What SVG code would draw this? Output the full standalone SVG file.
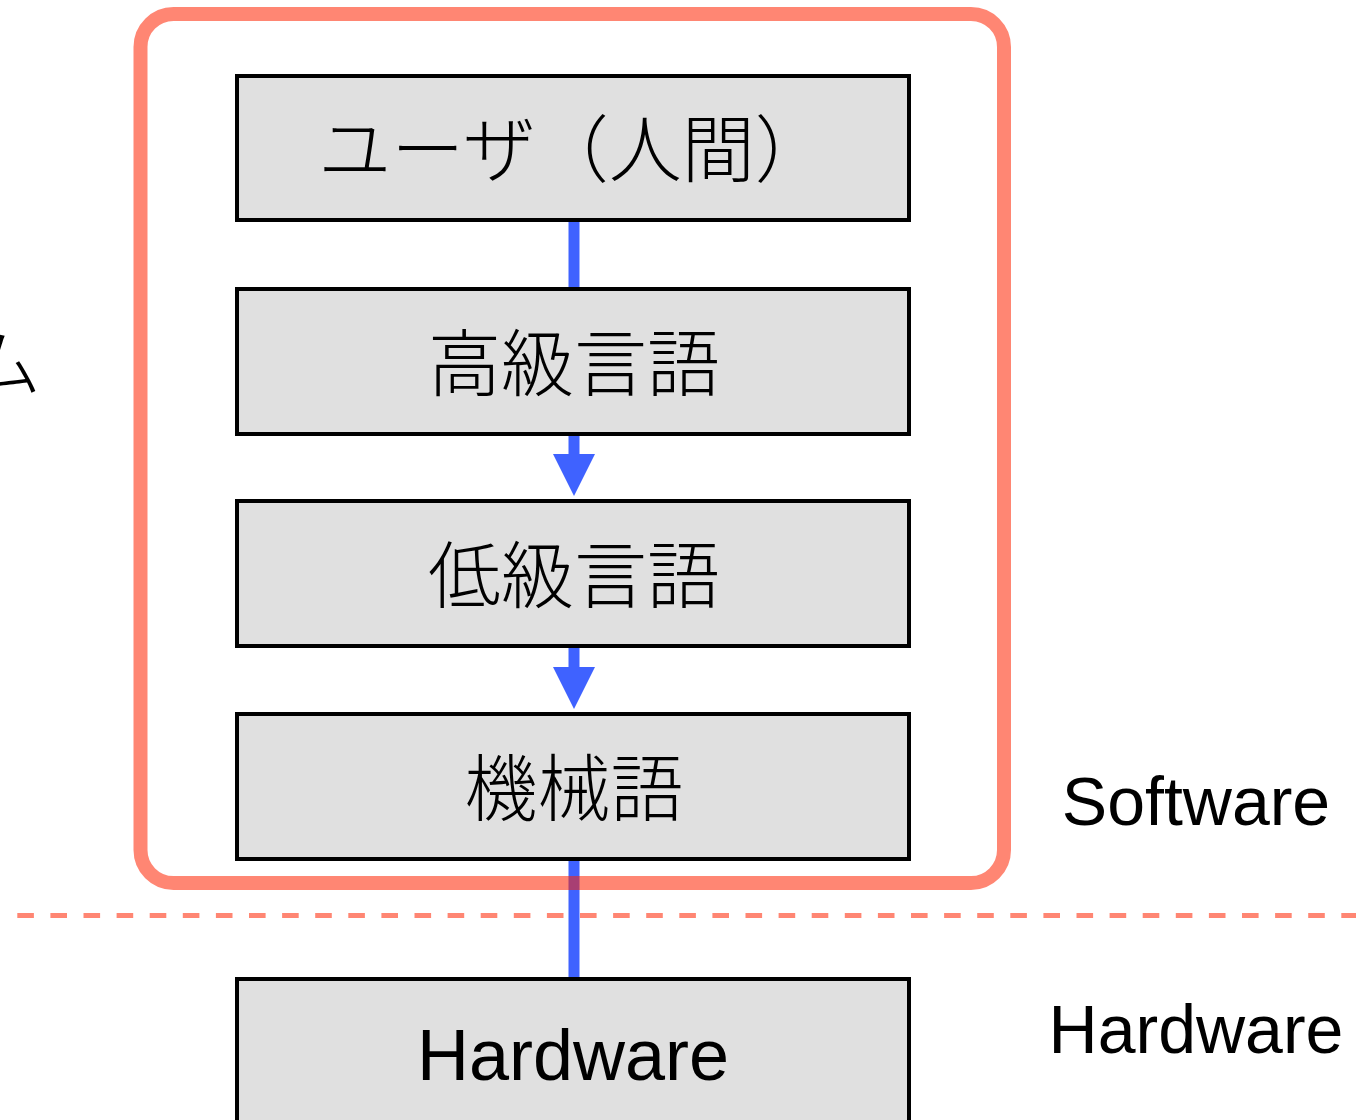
<svg xmlns="http://www.w3.org/2000/svg" width="1356" height="1120" viewBox="0 0 1356 1120">
  <style>
    .box { fill: #E0E0E0; stroke: #000000; stroke-width: 4; }
    .jp { font-family: "Noto Sans CJK JP", "Noto Sans", sans-serif; font-size: 73px; font-weight: 300; fill: #000000; }
    .en { font-family: "Liberation Sans", Arial, sans-serif; fill: #000000; }
    .link { stroke: #3F62FF; stroke-width: 11; fill: none; }
    .salmon { stroke: #FF2200; stroke-opacity: 0.55; fill: none; }
  </style>
  <defs>
    <marker id="arrow" markerUnits="userSpaceOnUse" markerWidth="42" markerHeight="42" viewBox="0 0 42 42" refX="0" refY="21" orient="auto">
      <path d="M0,0 L42,21 L0,42 Z" fill="#3F62FF"/>
    </marker>
  </defs>

  <text class="jp" x="-32" y="390">ム</text>

  <g id="node-user">
    <rect class="box" x="237" y="76" width="672" height="144"/>
    <text class="jp" x="573" y="176" text-anchor="middle">ユーザ（人間）</text>
  </g>
  <g id="node-high">
    <rect class="box" x="237" y="289" width="672" height="145"/>
    <text class="jp" x="574" y="390" text-anchor="middle">高級言語</text>
  </g>
  <g id="node-low">
    <rect class="box" x="237" y="501" width="672" height="145"/>
    <text class="jp" x="574" y="602" text-anchor="middle">低級言語</text>
  </g>
  <g id="node-machine">
    <rect class="box" x="237" y="714" width="672" height="145"/>
    <text class="jp" x="574" y="815" text-anchor="middle">機械語</text>
  </g>
  <g id="node-hardware">
    <rect class="box" x="237" y="979" width="672" height="200"/>
    <text class="en" x="573" y="1080" font-size="72" text-anchor="middle">Hardware</text>
  </g>

  <g id="connectors">
    <line class="link" x1="574" y1="222" x2="574" y2="287"/>
    <line class="link" x1="574" y1="436" x2="574" y2="454" marker-end="url(#arrow)"/>
    <line class="link" x1="574" y1="648" x2="574" y2="667" marker-end="url(#arrow)"/>
    <line class="link" x1="574" y1="861" x2="574" y2="977"/>
  </g>

  <g id="software-group">
    <rect class="salmon" x="140.5" y="14" width="863.5" height="869" rx="33" ry="33" stroke-width="14"/>
  </g>
  <g id="divider">
    <line class="salmon" x1="17.3" y1="915.5" x2="1356" y2="915.5" stroke-width="5" stroke-dasharray="16.6 16.5"/>
  </g>

  <text class="en" x="1196" y="825" font-size="68" text-anchor="middle">Software</text>
  <text class="en" x="1196" y="1053" font-size="68" text-anchor="middle">Hardware</text>
</svg>
